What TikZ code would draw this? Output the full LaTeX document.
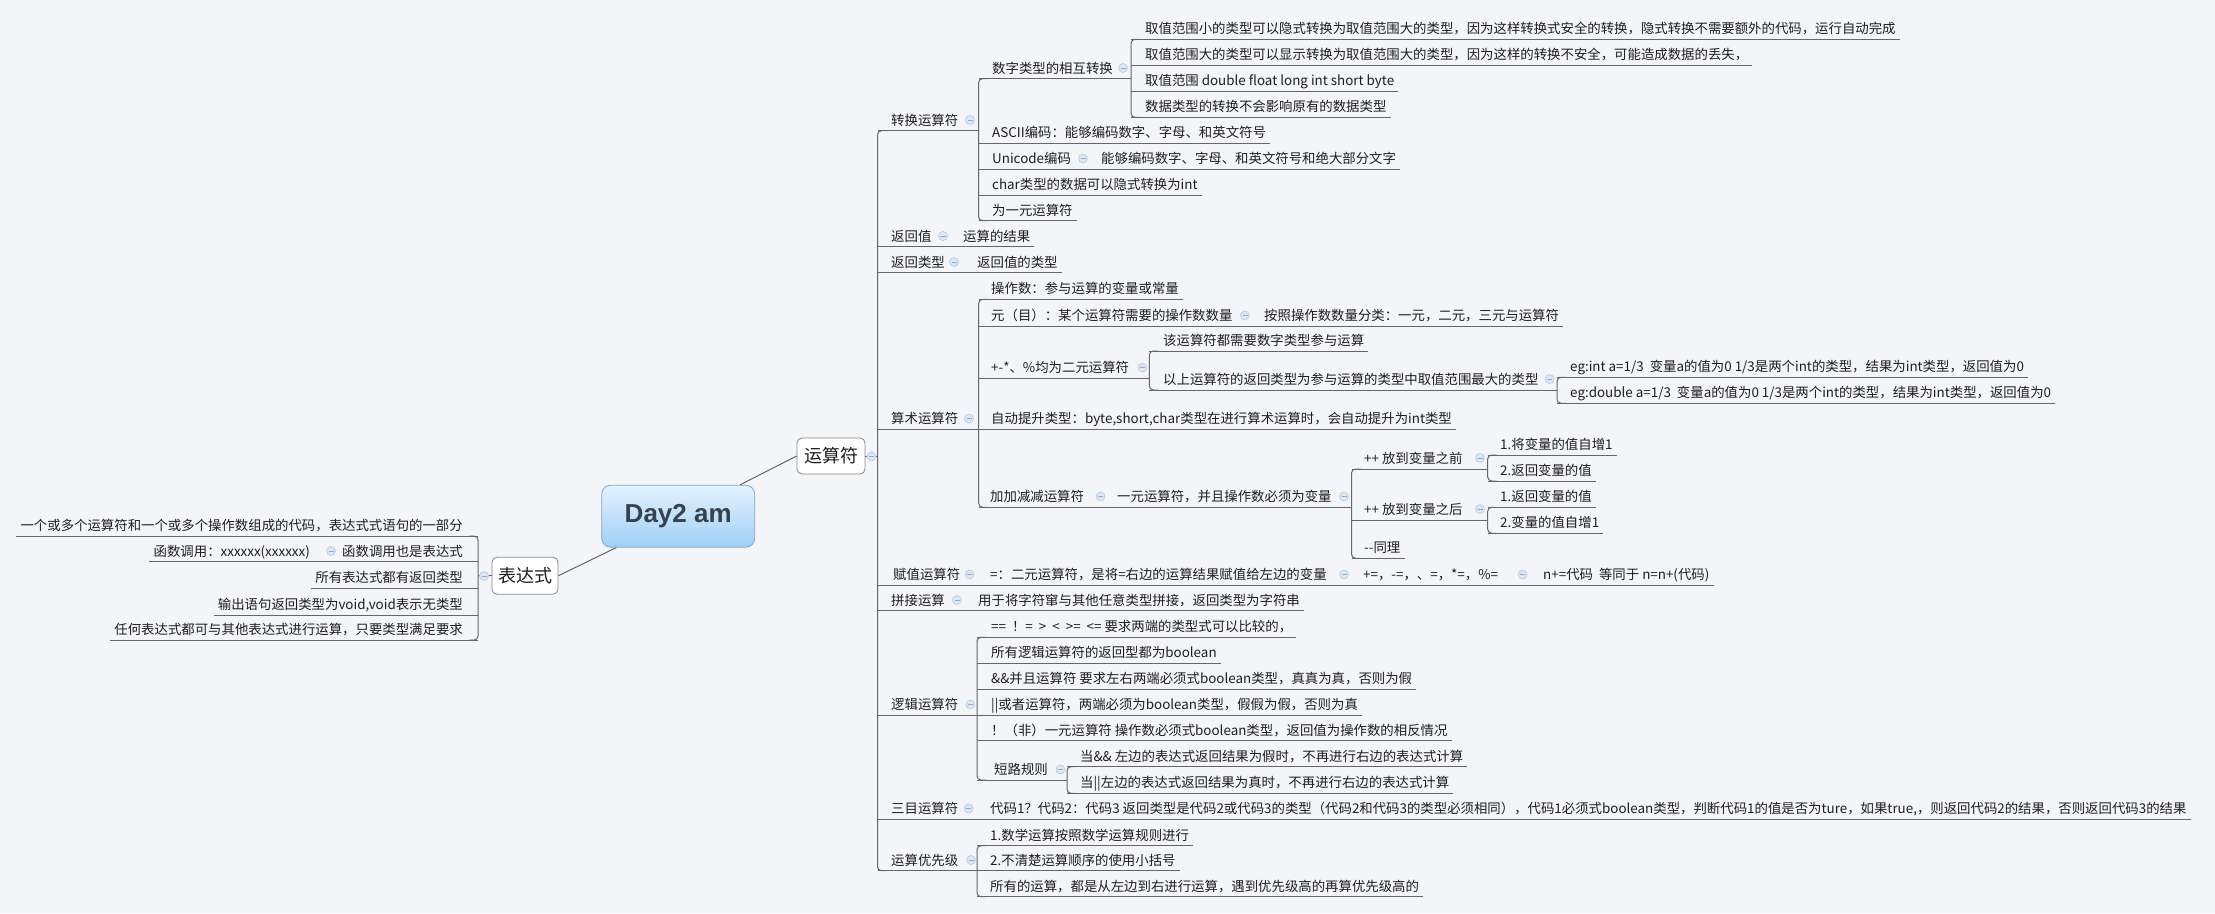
\documentclass[tikz,border=0pt]{standalone}
\usepackage{fontspec}
\setmainfont{Noto Sans CJK SC}
\newfontfamily\titlefont{Liberation Sans}
\definecolor{bg}{HTML}{F4F5F9}
\definecolor{lnc}{HTML}{666666}
\definecolor{txc}{HTML}{1E1E1E}
\definecolor{cbf}{HTML}{DCE7F5}
\definecolor{cbd}{HTML}{B4C9E4}
\definecolor{cbm}{HTML}{8FAAD0}
\definecolor{boxd}{HTML}{8A8A8A}
\definecolor{roottop}{HTML}{E4F2FF}
\definecolor{rootbot}{HTML}{9FCFF6}
\definecolor{rootd}{HTML}{7EA7CC}
\definecolor{roottx}{HTML}{37424F}
\newcommand\myul[3]{\draw[ln] (#1,#2) -- ([xshift=4pt]#3.south east);}
\newcommand\myulr[3]{\draw[ln] (#1,#2) -- ([xshift=-4pt]#3.south west);}
\newcommand\mybr[3]{\draw[br] (#1+9,#2) -- (#1,#2) -- (#1,#3) -- (#1+9,#3);}
\begin{document}
\begin{tikzpicture}[x=1pt,y=-1pt,
  ln/.style={draw=lnc, line width=1pt},
  br/.style={ln, rounded corners=4pt},
  tx/.style={anchor=south west, inner sep=0pt, text height=10pt, text depth=5.5pt, font=\fontsize{13.4}{16}\selectfont, text=txc},
  txr/.style={tx, anchor=south east},
  cb/.style={circle, draw=cbd, fill=cbf, minimum size=9pt, inner sep=0pt, line width=0.6pt,
    path picture={\draw[cbm, line width=1pt] ([xshift=-2.5pt]path picture bounding box.center) -- ([xshift=2.5pt]path picture bounding box.center);}},
  subbox/.style={draw=boxd, fill=white, rounded corners=5pt, line width=0.8pt, inner sep=0pt, font=\fontsize{18}{20}\selectfont, text=txc},
  rootbox/.style={draw=rootd, top color=roottop, bottom color=rootbot, rounded corners=9pt, line width=0.8pt, inner sep=0pt, font=\titlefont\bfseries\fontsize{26}{30}\selectfont, text=roottx}]
\useasboundingbox (0,0) rectangle (2215,913);
\fill[bg] (0,0) rectangle (2215,913);

% ---------- root and main branches ----------
\node[rootbox, minimum width=153pt, minimum height=62pt] (root) at (678.2,516.2) {Day2 am};
\node[subbox, minimum width=68pt, minimum height=36pt] (ops) at (831,456) {运算符};
\node[subbox, minimum width=66pt, minimum height=37pt] (expr) at (525,575.7) {表达式};
\draw[ln] ([xshift=-15pt]root.north east) -- (ops.west);
\draw[ln] ([xshift=15pt]root.south west) -- (expr.east);

% ---------- right side: 运算符 ----------
\draw[ln] (ops.east) -- (877.5,456);
\node[cb] (opsc) at (871.5,456.5) {};
\mybr{877.5}{130.7}{870.7}

% 转换运算符
\node[tx] (zh) at (891,130.7) {转换运算符};
\node[cb] (zhc) at (970,120) {};
\draw[ln] (877.5,130.7) -- (978.5,130.7);
\mybr{978.5}{78.7}{220.7}
\node[tx] (sz) at (992,78.7) {数字类型的相互转换};
\node[cb] (szc) at (1123,68) {};
\draw[ln] (978.5,78.7) -- (1131,78.7);
\mybr{1131}{39.3}{117.3}
\node[tx] (sz1) at (1145,39.3) {取值范围小的类型可以隐式转换为取值范围大的类型，因为这样转换式安全的转换，隐式转换不需要额外的代码，运行自动完成};
\myul{1131}{39.3}{sz1}
\node[tx] (sz2) at (1145,65.3) {取值范围大的类型可以显示转换为取值范围大的类型，因为这样的转换不安全，可能造成数据的丢失，};
\myul{1131}{65.3}{sz2}
\node[tx] (sz3) at (1145,91) {取值范围 double float long int short byte};
\myul{1131}{91}{sz3}
\node[tx] (sz4) at (1145,117.3) {数据类型的转换不会影响原有的数据类型};
\myul{1131}{117.3}{sz4}
\node[tx] (asc) at (992,143.3) {ASCII编码：能够编码数字、字母、和英文符号};
\myul{978.5}{143.3}{asc}
\node[tx] (uni) at (992,169.3) {Unicode编码};
\node[cb] (unic) at (1083,158.5) {};
\node[tx] (uni2) at (1101,169.3) {能够编码数字、字母、和英文符号和绝大部分文字};
\myul{978.5}{169.3}{uni2}
\node[tx] (chr) at (992,195) {char类型的数据可以隐式转换为int};
\myul{978.5}{195}{chr}
\node[tx] (unary) at (992,220.7) {为一元运算符};
\myul{978.5}{220.7}{unary}

% 返回值
\node[tx] (fh) at (891,246.7) {返回值};
\node[cb] (fhc) at (943,236) {};
\node[tx] (fh2) at (963,246.7) {运算的结果};
\myul{877.5}{246.7}{fh2}
% 返回类型
\node[tx] (fl) at (891,272.7) {返回类型};
\node[cb] (flc) at (954,262) {};
\node[tx] (fl2) at (977,272.7) {返回值的类型};
\myul{877.5}{272.7}{fl2}

% 算术运算符
\node[tx] (ss) at (891,429.3) {算术运算符};
\node[cb] (ssc) at (969,418.5) {};
\mybr{978.7}{299.3}{507.3}
\node[tx] (op) at (991,299.3) {操作数：参与运算的变量或常量};
\myul{978.7}{299.3}{op}
\node[tx] (yuan) at (991,326) {元（目）：某个运算符需要的操作数数量};
\node[cb] (yuanc) at (1245,315.5) {};
\node[tx] (yuan2) at (1264,326) {按照操作数数量分类：一元，二元，三元与运算符};
\myul{978.7}{326}{yuan2}
\node[tx] (bin) at (991,378.3) {+-*、\%均为二元运算符};
\node[cb] (binc) at (1142.4,367.5) {};
\draw[ln] (978.7,378.3) -- (1149.3,378.3);
\mybr{1149.3}{351}{390}
\node[tx] (bin1) at (1163,351) {该运算符都需要数字类型参与运算};
\myul{1149.3}{351}{bin1}
\node[tx] (bin2) at (1163,390) {以上运算符的返回类型为参与运算的类型中取值范围最大的类型};
\node[cb] (bin2c) at (1549.6,379) {};
\draw[ln] (1149.3,390) -- (1557,390);
\mybr{1557}{377.3}{403.3}
\node[tx] (eg1) at (1570,377.3) {eg:int a=1/3\ \ 变量a的值为0 1/3是两个int的类型，结果为int类型，返回值为0};
\myul{1557}{377.3}{eg1}
\node[tx] (eg2) at (1570,403.3) {eg:double a=1/3\ \ 变量a的值为0 1/3是两个int的类型，结果为int类型，返回值为0};
\myul{1557}{403.3}{eg2}
\node[tx] (auto) at (991,429.3) {自动提升类型：byte,short,char类型在进行算术运算时，会自动提升为int类型};
\myul{877.5}{429.3}{auto}
\node[tx] (inc) at (990,507.3) {加加减减运算符};
\node[cb] (incc) at (1100.5,496.5) {};
\node[tx] (inc2) at (1117,507.3) {一元运算符，并且操作数必须为变量};
\node[cb] (inc2c) at (1344,496.5) {};
\draw[ln] (978.7,507.3) -- (1351.5,507.3);
\mybr{1351.5}{469}{558.3}
\node[tx] (pre) at (1364,469) {++ 放到变量之前};
\node[cb] (prec) at (1480,458) {};
\draw[ln] (1351.5,469) -- (1487.7,469);
\mybr{1487.7}{455}{481}
\node[tx] (pre1) at (1500,455) {1.将变量的值自增1};
\myul{1487.7}{455}{pre1}
\node[tx] (pre2) at (1500,481) {2.返回变量的值};
\myul{1487.7}{481}{pre2}
\node[tx] (post) at (1364,520) {++ 放到变量之后};
\node[cb] (postc) at (1480,509) {};
\draw[ln] (1351.5,520) -- (1487.7,520);
\mybr{1487.7}{507.3}{533.3}
\node[tx] (post1) at (1500,507.3) {1.返回变量的值};
\myul{1487.7}{507.3}{post1}
\node[tx] (post2) at (1500,533.3) {2.变量的值自增1};
\myul{1487.7}{533.3}{post2}
\node[tx] (dec) at (1364,558.3) {-{}-同理};
\myul{1351.5}{558.3}{dec}

% 赋值运算符
\node[tx] (fz) at (893,585) {赋值运算符};
\node[cb] (fzc) at (969.5,574.5) {};
\node[tx] (fz2) at (990,585) {=：二元运算符，是将=右边的运算结果赋值给左边的变量};
\node[cb] (fz2c) at (1344,574.5) {};
\node[tx] (fz3) at (1363,585) {+=，-=，、=，*=，\%=};
\node[cb] (fz3c) at (1522.6,574.5) {};
\node[tx] (fz4) at (1543,585) {n+=代码\ \ 等同于 n=n+(代码)};
\myul{877.5}{585}{fz4}

% 拼接运算
\node[tx] (pj) at (891,610.7) {拼接运算};
\node[cb] (pjc) at (957,600) {};
\node[tx] (pj2) at (978,610.7) {用于将字符窜与其他任意类型拼接，返回类型为字符串};
\myul{877.5}{610.7}{pj2}

% 逻辑运算符
\node[tx] (lj) at (891,715) {逻辑运算符};
\node[cb] (ljc) at (970.4,704.5) {};
\draw[ln] (877.5,715) -- (977,715);
\mybr{977}{637.3}{780}
\node[tx] (lj1) at (991,637.3) {==\ \ ！=\ \ >\ \ <\ \ >=\ \ <=\ 要求两端的类型式可以比较的，};
\myul{977}{637.3}{lj1}
\node[tx] (lj2) at (991,663.3) {所有逻辑运算符的返回型都为boolean};
\myul{977}{663.3}{lj2}
\node[tx] (lj3) at (991,689.3) {\&\&并且运算符 要求左右两端必须式boolean类型，真真为真，否则为假};
\myul{977}{689.3}{lj3}
\node[tx] (lj4) at (991,715) {||或者运算符，两端必须为boolean类型，假假为假，否则为真};
\myul{977}{715}{lj4}
\node[tx] (lj5) at (991,740.7) {！（非）一元运算符 操作数必须式boolean类型，返回值为操作数的相反情况};
\myul{977}{740.7}{lj5}
\node[tx] (dl) at (994,780) {短路规则};
\node[cb] (dlc) at (1060.4,769.5) {};
\draw[ln] (977,780) -- (1067,780);
\mybr{1067}{766.7}{793.3}
\node[tx] (dl1) at (1080,766.7) {当\&\& 左边的表达式返回结果为假时，不再进行右边的表达式计算};
\myul{1067}{766.7}{dl1}
\node[tx] (dl2) at (1080,793.3) {当||左边的表达式返回结果为真时，不再进行右边的表达式计算};
\myul{1067}{793.3}{dl2}

% 三目运算符
\node[tx] (sm) at (891,819) {三目运算符};
\node[cb] (smc) at (968.6,808.5) {};
\node[tx] (sm2) at (990,819) {代码1？代码2：代码3 返回类型是代码2或代码3的类型（代码2和代码3的类型必须相同），代码1必须式boolean类型，判断代码1的值是否为ture，如果true,，则返回代码2的结果，否则返回代码3的结果};
\myul{877.5}{819}{sm2}

% 运算优先级
\node[tx] (yx) at (891,870.7) {运算优先级};
\node[cb] (yxc) at (971,860) {};
\draw[ln] (877.5,870.7) -- (977,870.7);
\mybr{977}{845.7}{896.7}
\node[tx] (yx1) at (990,845.7) {1.数学运算按照数学运算规则进行};
\myul{977}{845.7}{yx1}
\node[tx] (yx2) at (990,870.7) {2.不清楚运算顺序的使用小括号};
\myul{977}{870.7}{yx2}
\node[tx] (yx3) at (990,896.7) {所有的运算，都是从左边到右进行运算，遇到优先级高的再算优先级高的};
\myul{977}{896.7}{yx3}

% ---------- left side: 表达式 ----------
\draw[ln] (expr.west) -- (478,575.7);
\node[cb] (exprc) at (484,576) {};
\draw[br] (469,536) -- (478,536) -- (478,640) -- (469,640);
\node[txr] (l1) at (463,536) {一个或多个运算符和一个或多个操作数组成的代码，表达式式语句的一部分};
\myulr{478}{536}{l1}
\node[txr] (l2b) at (463,561.7) {函数调用也是表达式};
\node[cb] (l2c) at (331,551) {};
\node[txr] (l2a) at (310,561.7) {函数调用：xxxxxx(xxxxxx)};
\myulr{478}{561.7}{l2a}
\node[txr] (l3) at (463,588.3) {所有表达式都有返回类型};
\myulr{478}{588.3}{l3}
\node[txr] (l4) at (463,615) {输出语句返回类型为void,void表示无类型};
\myulr{478}{615}{l4}
\node[txr] (l5) at (463,640) {任何表达式都可与其他表达式进行运算，只要类型满足要求};
\myulr{478}{640}{l5}
\end{tikzpicture}
\end{document}
